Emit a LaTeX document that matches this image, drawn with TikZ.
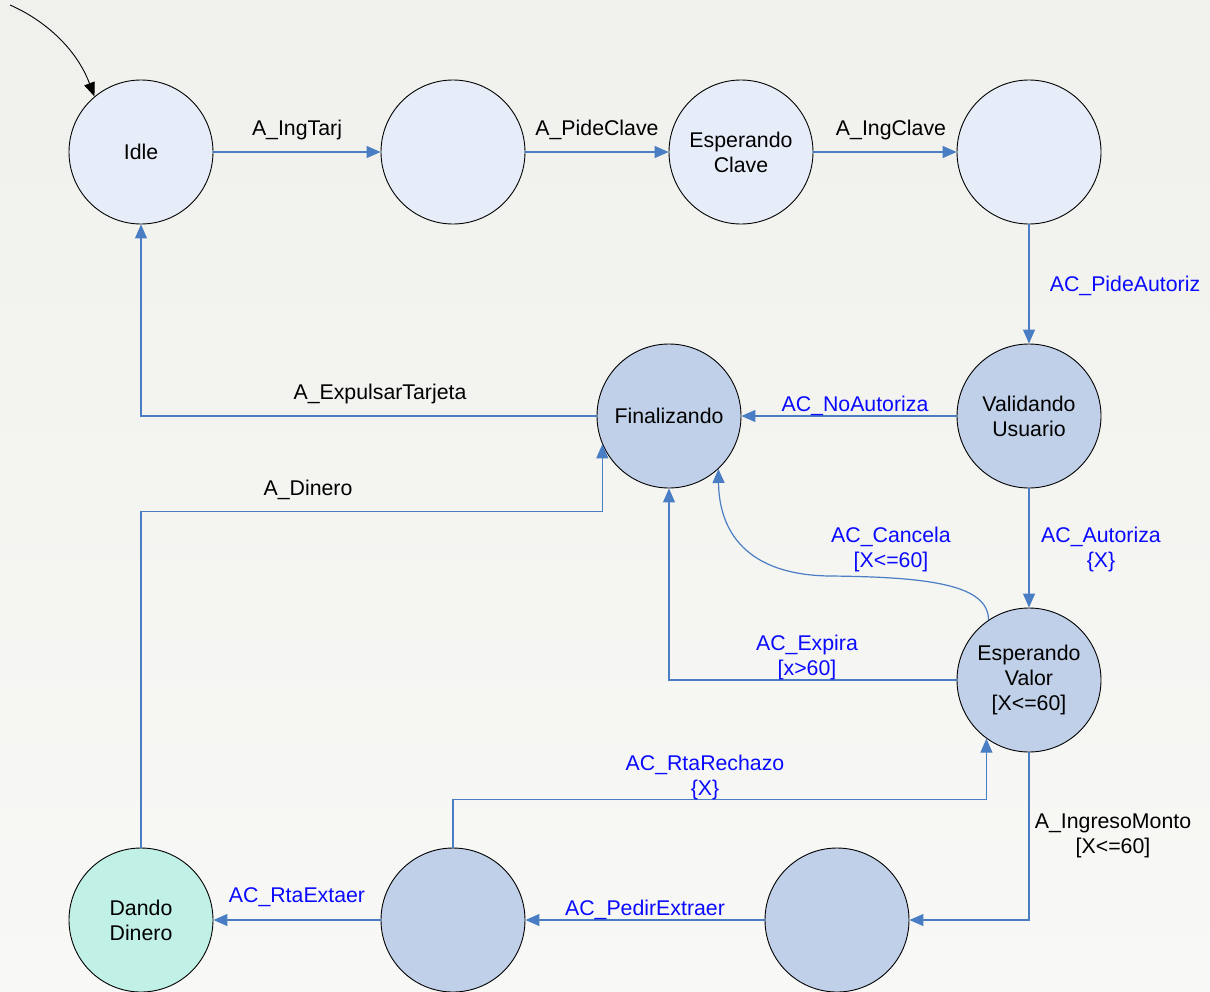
\documentclass[tikz,border=0pt]{standalone}
\usepackage{fontspec}
\setmainfont{Liberation Sans}
\usetikzlibrary{arrows.meta}
\definecolor{lightst}{RGB}{231,237,248}
\definecolor{midst}{RGB}{192,208,232}
\definecolor{greenst}{RGB}{192,240,230}
\definecolor{edgeblue}{RGB}{74,126,196}
\definecolor{lblblue}{RGB}{10,10,255}
\definecolor{bgtop}{RGB}{240,240,236}
\definecolor{bgbot}{RGB}{248,248,246}
\begin{document}
\begin{tikzpicture}[x=1pt,y=-1pt,
  state/.style={circle,draw=black,line width=0.9pt,minimum size=144pt,inner sep=0pt,align=center,font=\fontsize{21.3}{24.8}\selectfont},
  conn/.style={draw=edgeblue,line width=1.2pt,-{Triangle[length=14pt,width=12pt]}},
  lbl/.style={font=\fontsize{21.3}{25}\selectfont,align=center,inner sep=0pt},
  lblb/.style={lbl,text=lblblue}]
\shade[top color=bgtop,bottom color=bgbot] (0,0) rectangle (1210,991);
\useasboundingbox (0,0) rectangle (1210,991);
% states
\node[state,fill=lightst] (idle) at (141,152) {Idle};
\node[state,fill=lightst] (s2) at (453,152) {};
\node[state,fill=lightst] (ecl) at (741,152) {Esperando\\Clave};
\node[state,fill=lightst] (s4) at (1029,152) {};
\node[state,fill=midst] (val) at (1029,416) {Validando\\Usuario};
\node[state,fill=midst] (fin) at (669,416) {Finalizando};
\node[state,fill=midst] (ev) at (1029,680) {Esperando\\Valor\\{[X<=60]}};
\node[state,fill=midst] (br) at (837,920) {};
\node[state,fill=midst] (bm) at (453,920) {};
\node[state,fill=greenst] (dd) at (141,920) {Dando\\Dinero};
% initial
\coordinate (start) at (10,5);
\draw[black,line width=0.9pt,-{Triangle[length=14pt,width=11pt]}] (start) .. controls (40,18) and (75,45) .. (idle.130);
% connectors
\draw[conn] (idle.east) -- (s2.west);
\draw[conn] (s2.east) -- (ecl.west);
\draw[conn] (ecl.east) -- (s4.west);
\draw[conn] (s4.south) -- (val.north);
\draw[conn] (val.west) -- (fin.east);
\draw[conn] (fin.west) -| (idle.south);
\draw[conn] (val.south) -- (ev.north);
\draw[conn] (ev.124) .. controls +(0,-35) and (930,577) .. (830,576) .. controls (745,575) and (719,530) .. (fin.-47);
\draw[conn] (ev.west) -| (fin.south);
\draw[conn] (ev.south) |- (br.east);
\draw[conn] (br.west) -- (bm.east);
\draw[conn] (bm.north) -- ++(0,-48) -| (ev.234);
\draw[conn] (bm.west) -- (dd.east);
\draw[conn] (dd.north) -- ++(0,-336) -| (fin.203.6);
% labels
\node[lbl] at (297,129.5) {A\_IngTarj};
\node[lbl] at (597,129.5) {A\_PideClave};
\node[lbl] at (891,129.5) {A\_IngClave};
\node[lblb] at (1125,285.5) {AC\_PideAutoriz};
\node[lblb] at (855,405.5) {AC\_NoAutoriza};
\node[lbl] at (380,393.5) {A\_ExpulsarTarjeta};
\node[lbl] at (308,489.5) {A\_Dinero};
\node[lblb] at (891,549) {AC\_Cancela\\{[X<=60]}};
\node[lblb] at (1101,549) {AC\_Autoriza\\\{X\}};
\node[lblb] at (807,657) {AC\_Expira\\{[x>60]}};
\node[lblb] at (705,777) {AC\_RtaRechazo\\\{X\}};
\node[lbl] at (1113,836) {A\_IngresoMonto\\{[X<=60]}};
\node[lblb] at (645,909.5) {AC\_PedirExtraer};
\node[lblb] at (297,897.5) {AC\_RtaExtaer};
\end{tikzpicture}
\end{document}
